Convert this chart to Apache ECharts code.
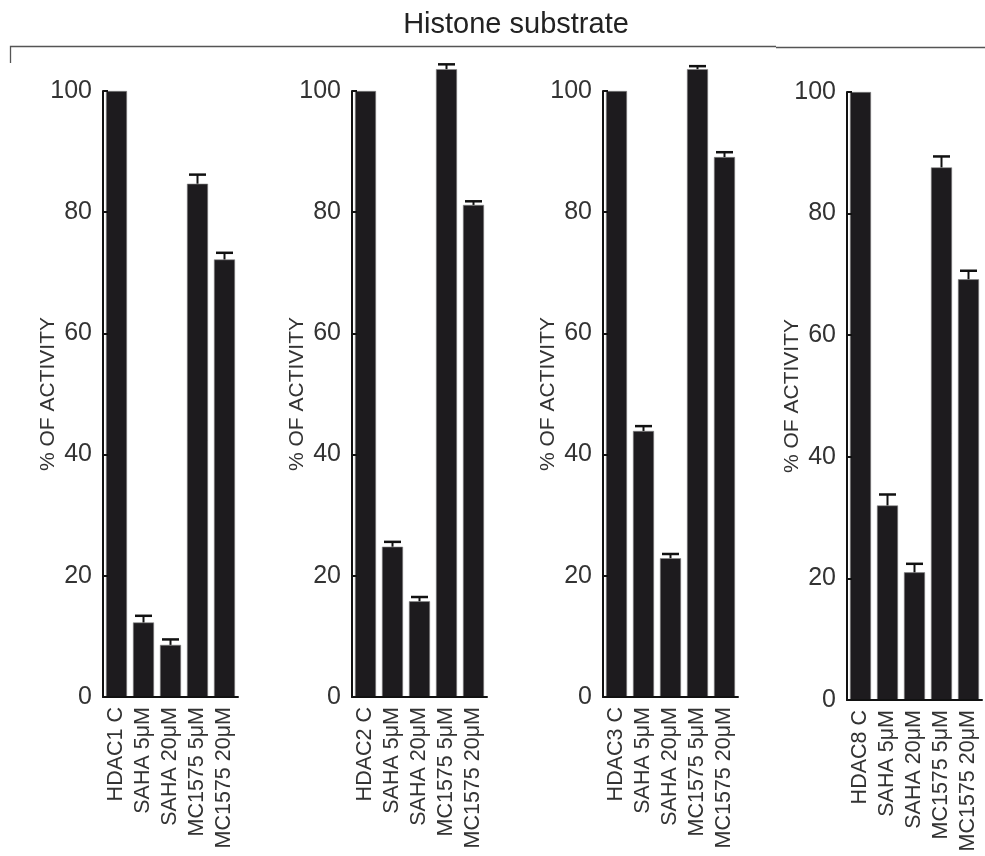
<!DOCTYPE html>
<html><head><meta charset="utf-8">
<script src="https://cdn.jsdelivr.net/npm/echarts@6/dist/echarts.min.js"></script>
<style>html,body{margin:0;padding:0;background:#fff}#c{width:985px;height:856px}</style>
</head><body><div id="c"></div>
<script>
var title = 'Histone substrate';
var yName = '% OF ACTIVITY';
var treatments = ['SAHA 5μM', 'SAHA 20μM', 'MC1575 5μM', 'MC1575 20μM'];
var controls = ['HDAC1 C', 'HDAC2 C', 'HDAC3 C', 'HDAC8 C'];
var yTicks = [0, 20, 40, 60, 80, 100];

var hdac1 = [100, 12.3, 8.6, 84.7, 72.2];
var err1  = [0, 1.1, 0.9, 1.5, 1.1];
var hdac2 = [100, 24.8, 15.8, 103.6, 81.2];
var err2  = [0, 0.8, 0.7, 0.8, 0.6];
var hdac3 = [100, 43.9, 22.9, 103.6, 89.1];
var err3  = [0, 0.8, 0.7, 0.5, 0.8];
var hdac8 = [100, 32.0, 21.0, 87.6, 69.2];
var err8  = [0, 1.8, 1.4, 1.8, 1.4];

var panels = [
  {vals: hdac1, errs: err1, left: 103, top: 91, height: 606},
  {vals: hdac2, errs: err2, left: 352, top: 91, height: 606},
  {vals: hdac3, errs: err3, left: 603, top: 91, height: 606},
  {vals: hdac8, errs: err8, left: 847, top: 92, height: 608}
];

var font = 'Liberation Sans, Arial, sans-serif';
var grids = [], xAxes = [], yAxes = [], series = [];
panels.forEach(function (p, i) {
  var cats = [controls[i]].concat(treatments);
  grids.push({left: p.left, top: p.top, width: 135, height: p.height, containLabel: false});
  xAxes.push({
    type: 'category', gridIndex: i, data: cats, z: 10,
    axisLine: {lineStyle: {color: '#111', width: 2}},
    axisTick: {inside: true, length: 14, lineStyle: {color: '#111', width: 1.5}},
    axisLabel: {rotate: 90, margin: 10, fontSize: 21.5, color: '#333', fontFamily: font, interval: 0}
  });
  yAxes.push({
    type: 'value', gridIndex: i, min: 0, max: 100, interval: 20, z: 10,
    name: yName, nameLocation: 'middle', nameGap: 44, nameRotate: 90, nameMoveOverlap: false,
    nameTextStyle: {fontSize: 21, color: '#333', fontFamily: font},
    axisLine: {show: true, lineStyle: {color: '#111', width: 2}},
    axisTick: {show: true, inside: true, length: 5, lineStyle: {color: '#111', width: 2}},
    axisLabel: {fontSize: 25, color: '#333', fontFamily: font, margin: 11},
    splitLine: {show: false}
  });
  series.push({
    type: 'bar', xAxisIndex: i, yAxisIndex: i, data: p.vals,
    barCategoryGap: '22%', clip: false, silent: true,
    itemStyle: {color: '#1d1b1e', borderColor: '#888', borderWidth: 0.6}
  });
  var errData = p.vals.map(function (v, k) { return [k, v, p.errs[k]]; }).filter(function (d) { return d[2] > 0; });
  series.push({
    type: 'custom', xAxisIndex: i, yAxisIndex: i, data: errData, clip: false, silent: true, z: 5,
    renderItem: function (params, api) {
      var x = api.value(0), v = api.value(1), e = api.value(2);
      var base = api.coord([x, v]);
      var top = api.coord([x, v + e]);
      var hw = 8.5;
      return {
        type: 'group',
        children: [
          {type: 'line', shape: {x1: base[0], y1: base[1], x2: top[0], y2: top[1]}, style: {stroke: '#111', lineWidth: 2}},
          {type: 'line', shape: {x1: top[0] - hw, y1: top[1], x2: top[0] + hw, y2: top[1]}, style: {stroke: '#111', lineWidth: 2.5}}
        ]
      };
    }
  });
});

var chart = echarts.init(document.getElementById('c'), null, {renderer: 'canvas'});
chart.setOption({
  animation: false,
  backgroundColor: '#fff',
  title: {text: title, left: 511, top: 5, textAlign: 'center',
    textStyle: {fontSize: 29, fontWeight: 'normal', color: '#222', fontFamily: font}},
  graphic: [
    {type: 'polyline', shape: {points: [[10.5, 63], [10.5, 46.5], [776, 46.5]]}, style: {stroke: '#555', lineWidth: 1.3, fill: null}},
    {type: 'line', shape: {x1: 776, y1: 47.5, x2: 985, y2: 47.5}, style: {stroke: '#555', lineWidth: 1.3}}
  ],
  grid: grids, xAxis: xAxes, yAxis: yAxes, series: series
});
</script></body></html>
